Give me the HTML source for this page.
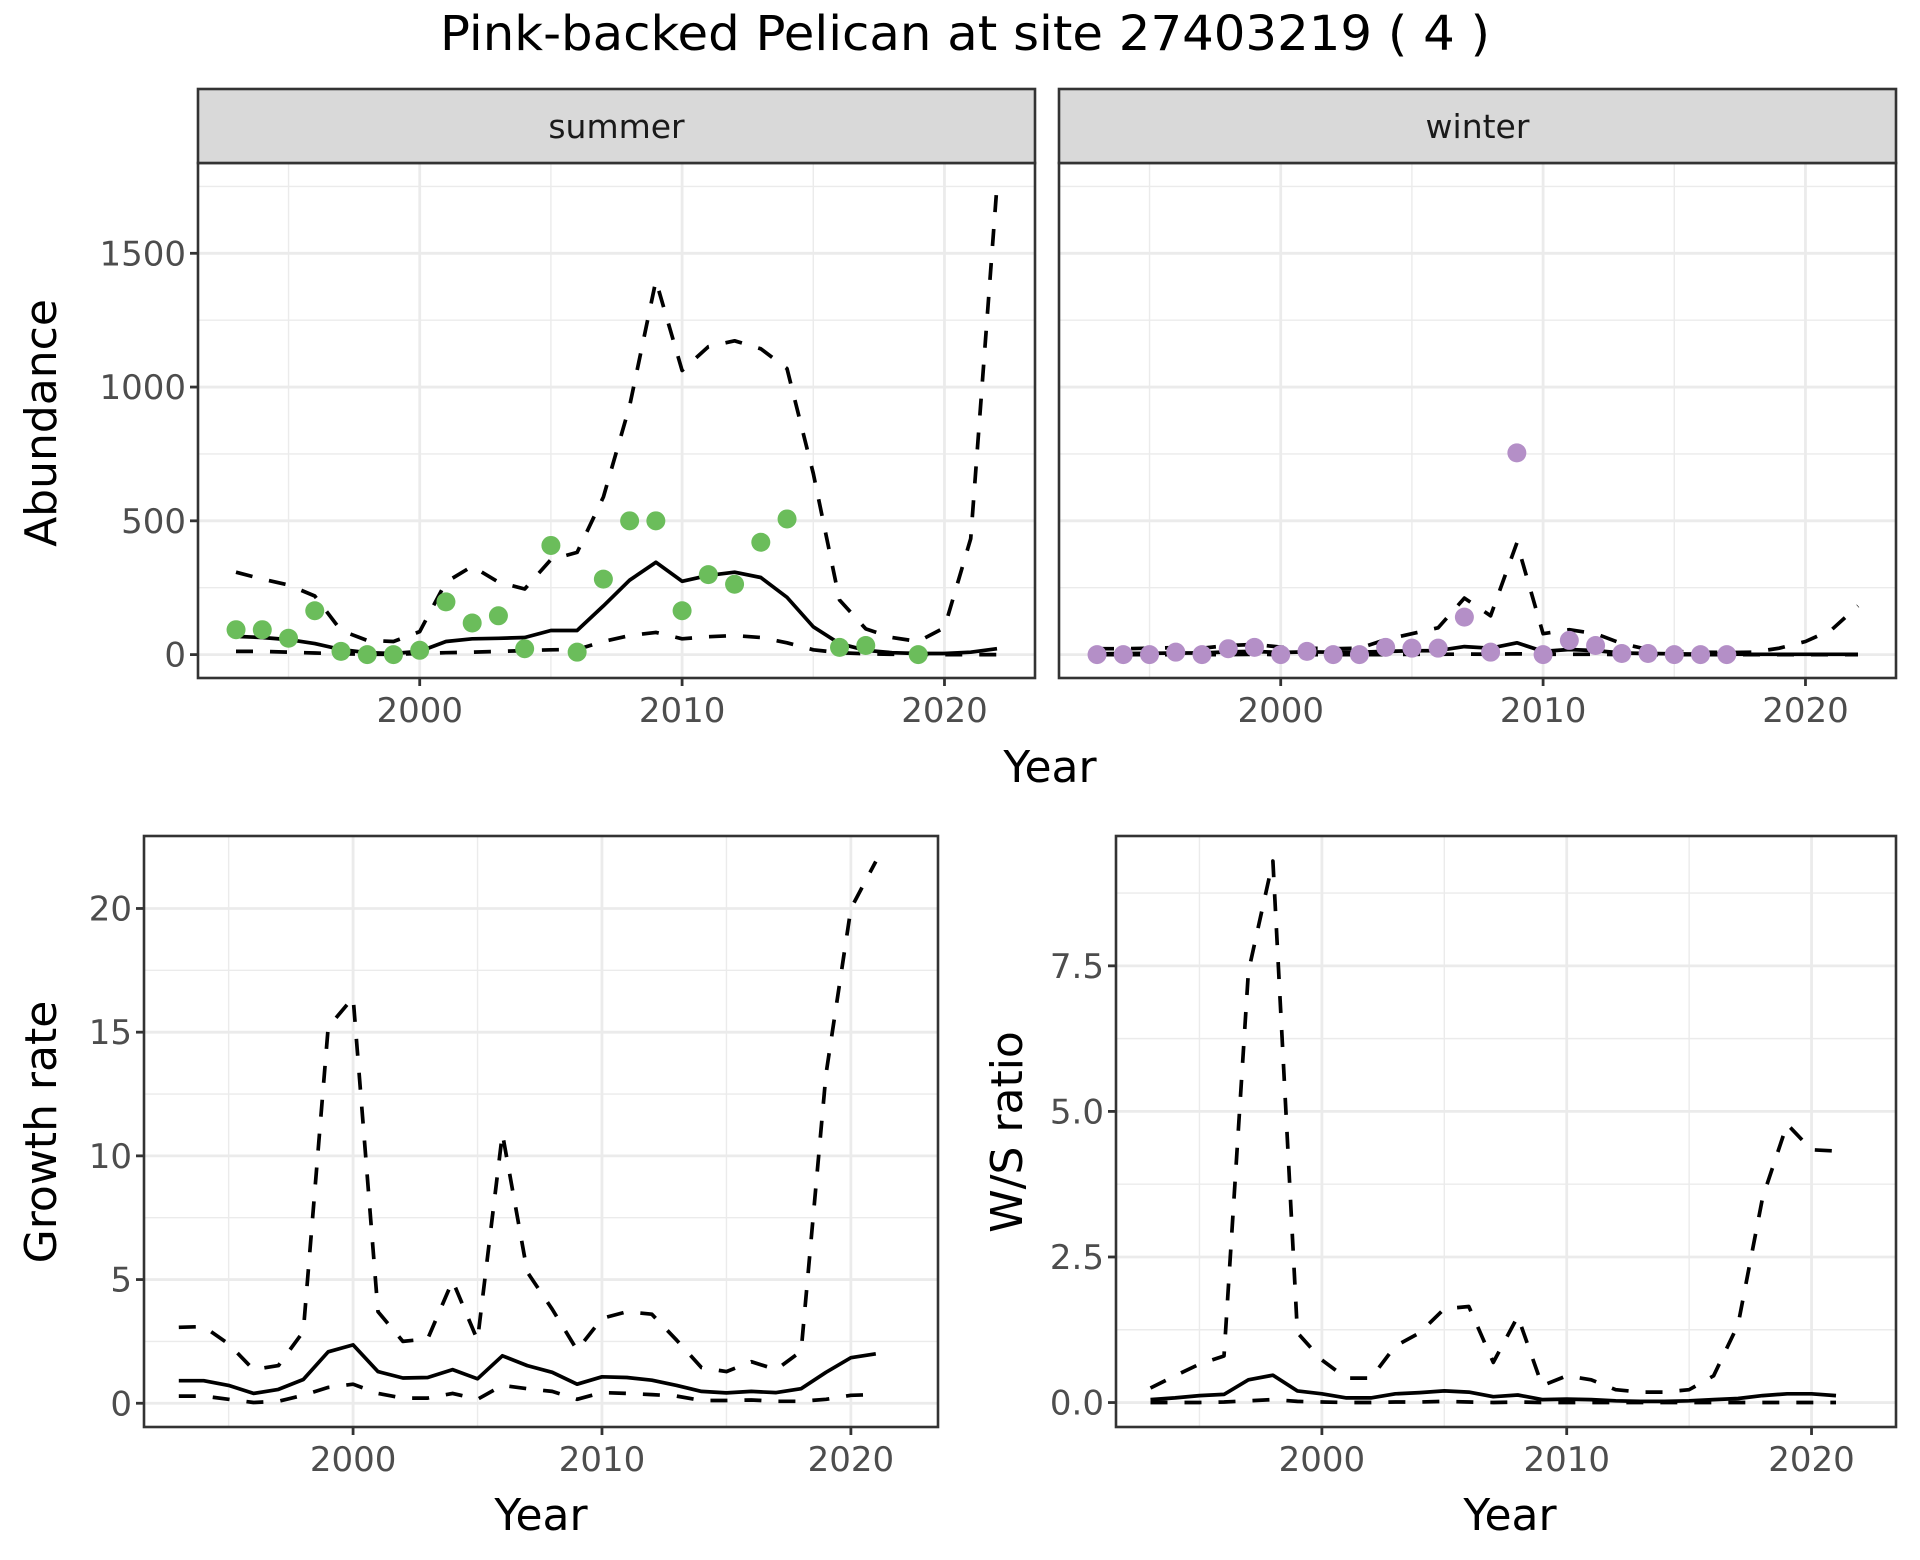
<!DOCTYPE html>
<html><head><meta charset="utf-8">
<style>
html,body{margin:0;padding:0;background:#fff;}
svg{display:block;font-family:"DejaVu Sans","Liberation Sans",sans-serif;}
</style></head>
<body>
<svg id="chart" width="1920" height="1560" viewBox="0 0 1920 1560" xmlns="http://www.w3.org/2000/svg">
<rect width="1920" height="1560" fill="#fff"/>
<text x="965" y="50" font-size="48" text-anchor="middle" textLength="1050" lengthAdjust="spacingAndGlyphs" fill="#000">Pink-backed Pelican at site 27403219 ( 4 )</text>
<g id="plots"></g>
</svg>
<script>
const years = [1993,1994,1995,1996,1997,1998,1999,2000,2001,2002,2003,2004,2005,2006,2007,2008,2009,2010,2011,2012,2013,2014,2015,2016,2017,2018,2019,2020,2021,2022];
// summer abundance
const summerObsYears = [1993,1994,1995,1996,1997,1998,1999,2000,2001,2002,2003,2004,2005,2006,2007,2008,2009,2010,2011,2012,2013,2014,2016,2017,2019];
const summerObs = [93,93,61,164,12,0,0,16,197,118,145,22,408,9,282,500,500,164,299,263,420,507,27,34,0];
const summerMean = [68,64,56,41,19,7,4,12,49,59,61,64,90,90,182,278,345,274,296,308,288,214,104,41,16,7,4,4,9,22];
const summerUpper = [308,282,260,219,90,53,49,86,271,330,271,245,355,382,589,929,1398,1062,1151,1173,1143,1069,677,204,96,64,49,101,433,1754];
const summerLower = [12,12,9,6,3,1,1,4,7,9,12,15,18,19,49,71,83,59,67,71,64,44,18,7,3,1,1,0,0,0];
// winter abundance
const winterObsYears = [1993,1994,1995,1996,1997,1998,1999,2000,2001,2002,2003,2004,2005,2006,2007,2008,2009,2010,2011,2012,2013,2014,2015,2016,2017];
const winterObs = [0,0,0,9,0,22,27,0,12,0,0,27,24,24,140,9,754,0,53,34,4,4,0,0,0];
const winterMean = [3,4,5,6,6,10,12,8,10,9,9,12,14,15,30,24,44,12,19,15,6,4,3,2,2,1,1,1,1,1];
const winterUpper = [22,22,24,26,24,34,38,28,24,22,24,56,78,100,211,145,418,78,93,78,41,19,12,9,8,9,24,49,93,182];
const winterLower = [0,0,0,0,0,0,1,0,0,0,0,0,1,1,2,1,3,1,1,1,0,0,0,0,0,0,0,0,0,0];
// growth rate
const growthYears = [1993,1994,1995,1996,1997,1998,1999,2000,2001,2002,2003,2004,2005,2006,2007,2008,2009,2010,2011,2012,2013,2014,2015,2016,2017,2018,2019,2020,2021];
const growthMean = [0.91,0.91,0.72,0.4,0.56,0.96,2.08,2.36,1.28,1.02,1.04,1.36,0.99,1.92,1.52,1.25,0.77,1.07,1.04,0.93,0.72,0.48,0.42,0.48,0.43,0.59,1.25,1.84,2.0];
const growthUpper = [3.07,3.1,2.4,1.36,1.52,2.9,15.2,16.4,3.7,2.5,2.6,4.95,2.55,10.9,5.3,3.8,2.15,3.43,3.7,3.6,2.55,1.44,1.28,1.68,1.36,2.1,13.3,20.0,21.9];
const growthLower = [0.29,0.29,0.16,0.03,0.08,0.32,0.64,0.77,0.4,0.21,0.21,0.4,0.16,0.72,0.59,0.48,0.16,0.43,0.4,0.35,0.29,0.11,0.11,0.13,0.08,0.08,0.16,0.32,0.35];
// W/S ratio
const ratioMean = [0.05,0.08,0.12,0.14,0.39,0.47,0.2,0.15,0.08,0.08,0.15,0.17,0.2,0.18,0.1,0.13,0.05,0.06,0.05,0.03,0.02,0.02,0.03,0.05,0.07,0.12,0.15,0.15,0.12];
const ratioUpper = [0.25,0.46,0.66,0.8,7.4,9.3,1.2,0.73,0.42,0.42,0.97,1.2,1.61,1.65,0.69,1.48,0.29,0.46,0.39,0.22,0.18,0.18,0.22,0.46,1.34,3.52,4.78,4.34,4.32];
const ratioLower = [0,0,0,0.01,0.03,0.05,0.02,0.01,0,0,0.01,0.01,0.02,0.01,0,0.01,0,0,0,0,0,0,0,0,0,0,0,0,0];

const abTicks = [0,500,1000,1500];
const abMinor = [250,750,1250,1750];
const grTicks = [0,5,10,15,20];
const grMinor = [2.5,7.5,12.5,17.5];
const rtTicks = [0,2.5,5,7.5];
const rtLabels = ["0.0","2.5","5.0","7.5"];
const rtMinor = [1.25,3.75,6.25,8.75];
const xTicks = [2000,2010,2020];
const xMinor = [1995,2005,2015];

const NS = "http://www.w3.org/2000/svg";
const root = document.getElementById('plots');
function el(tag, attrs, parent){
  const e = document.createElementNS(NS, tag);
  for (const k in attrs) e.setAttribute(k, attrs[k]);
  (parent||root).appendChild(e);
  return e;
}
function scale(d0,d1,r0,r1){ return v => r0 + (v-d0)/(d1-d0)*(r1-r0); }

function panel(p){
  const g = el('g', {});
  
  
  const xs = scale(p.xd[0], p.xd[1], p.L, p.R);
  const ys = scale(p.yd[0], p.yd[1], p.B, p.T);
  el('rect',{x:p.L,y:p.T,width:p.R-p.L,height:p.B-p.T,fill:'#fff'},g);
  p.yMinor.forEach(v=>{ el('line',{x1:p.L,x2:p.R,y1:ys(v),y2:ys(v),stroke:'#ebebeb','stroke-width':1.4},g); });
  xMinor.forEach(v=>{ el('line',{x1:xs(v),x2:xs(v),y1:p.T,y2:p.B,stroke:'#ebebeb','stroke-width':1.4},g); });
  p.yTicks.forEach((v,i)=>{
    const gl = el('line',{x1:p.L,x2:p.R,y1:ys(v),y2:ys(v),stroke:'#ebebeb','stroke-width':2.8},g);
    
    
    if (p.yLabels){
      el('line',{x1:p.L-8,x2:p.L,y1:ys(v),y2:ys(v),stroke:'#333','stroke-width':2.8},g);
      const t = el('text',{x:p.L-12,y:ys(v)+12,'font-size':34,'text-anchor':'end',fill:'#4d4d4d'},g);
      t.textContent = p.yLabels[i];
      
      
    }
  });
  xTicks.forEach(v=>{
    el('line',{x1:xs(v),x2:xs(v),y1:p.T,y2:p.B,stroke:'#ebebeb','stroke-width':2.8},g);
    el('line',{x1:xs(v),x2:xs(v),y1:p.B,y2:p.B+8,stroke:'#333','stroke-width':2.8},g);
    const t = el('text',{x:xs(v),y:p.B+44,'font-size':34,'text-anchor':'middle',fill:'#4d4d4d'},g);
    t.textContent = v;
    
    
  });
  const clip = 'clip-'+p.name;
  const cp = el('clipPath',{id:clip},g);
  el('rect',{x:p.L,y:p.T,width:p.R-p.L,height:p.B-p.T},cp);
  const lines = el('g',{'clip-path':'url(#'+clip+')'},g);
  p.series.forEach(s=>{
    const pts = s.x.map((yr,i)=>xs(yr).toFixed(1)+','+ys(s.y[i]).toFixed(1)).join(' ');
    const pl = el('polyline',{points:pts,fill:'none',stroke:'#000','stroke-width':3.7,'stroke-linejoin':'round','stroke-dasharray':s.dash?'17,17':'none'},lines);
    
    
  });
  if (p.points){
    p.points.x.forEach((yr,i)=>{
      const c = el('circle',{cx:xs(yr),cy:ys(p.points.y[i]),r:9.5,fill:p.points.color},lines);
      
      
    });
  }
  el('rect',{x:p.L,y:p.T,width:p.R-p.L,height:p.B-p.T,fill:'none',stroke:'#333','stroke-width':2.6},g);
  if (p.strip){
    const sr = el('rect',{x:p.L,y:89,width:p.R-p.L,height:p.T-89,fill:'#d9d9d9',stroke:'#333','stroke-width':2.6},g);
    
    
    const st = el('text',{x:(p.L+p.R)/2,y:138,'font-size':33,'text-anchor':'middle',fill:'#1a1a1a'},g);
    st.textContent = p.strip;
    
    
  }
}

const abD = [-87.5,1837.5];
const xD = [1991.55,2023.45];
panel({name:'summer-panel',L:198,R:1035,T:163,B:678,xd:xD,yd:abD,yTicks:abTicks,yMinor:abMinor,yLabels:abTicks.map(String),strip:'summer',
  series:[{name:'summer-upper-line',x:years,y:summerUpper,dash:true},{name:'summer-lower-line',x:years,y:summerLower,dash:true},{name:'summer-mean-line',x:years,y:summerMean}],
  points:{x:summerObsYears,y:summerObs,color:'#6bbd5b'}});
panel({name:'winter-panel',L:1059,R:1896,T:163,B:678,xd:xD,yd:abD,yTicks:abTicks,yMinor:abMinor,yLabels:null,strip:'winter',
  series:[{name:'winter-upper-line',x:years,y:winterUpper,dash:true},{name:'winter-lower-line',x:years,y:winterLower,dash:true},{name:'winter-mean-line',x:years,y:winterMean}],
  points:{x:winterObsYears,y:winterObs,color:'#b48fc7'}});
const xD2 = [1991.6,2023.5];
panel({name:'growth-panel',L:144,R:938,T:836,B:1427,xd:xD2,yd:[-0.96,22.93],yTicks:grTicks,yMinor:grMinor,yLabels:grTicks.map(String),
  series:[{name:'growth-upper-line',x:growthYears,y:growthUpper,dash:true},{name:'growth-lower-line',x:growthYears,y:growthLower,dash:true},{name:'growth-mean-line',x:growthYears,y:growthMean}]});
panel({name:'ratio-panel',L:1116,R:1896,T:836,B:1427,xd:[1991.59,2023.45],yd:[-0.42,9.73],yTicks:rtTicks,yMinor:rtMinor,yLabels:rtLabels,
  series:[{name:'ratio-upper-line',x:growthYears,y:ratioUpper,dash:true},{name:'ratio-lower-line',x:growthYears,y:ratioLower,dash:true},{name:'ratio-mean-line',x:growthYears,y:ratioMean}]});

function label(txt,x,y,rot,name){
  const t = el('text',{x:x,y:y,'font-size':44,'text-anchor':'middle',fill:'#000'});
  if (rot) t.setAttribute('transform','rotate(-90 '+x+' '+y+')');
  t.textContent = txt;
  
  
}
label('Year',1050,782,false,'top-x-axis-title');
label('Abundance',56,423,true,'abundance-y-axis-title');
label('Year',541,1530,false,'growth-x-axis-title');
label('Growth rate',56,1132,true,'growth-y-axis-title');
label('Year',1510,1530,false,'ratio-x-axis-title');
label('W/S ratio',1022,1132,true,'ratio-y-axis-title');
</script>
</body></html>
